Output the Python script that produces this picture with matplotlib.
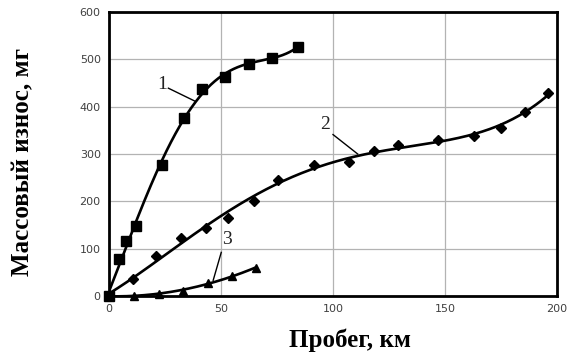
import numpy as np
import matplotlib
matplotlib.use("Agg")
from matplotlib import pyplot as plt

# curve 1 (squares)
x1 = [0, 4.6, 7.8, 12.2, 23.8, 33.3, 41.4, 51.6, 62.5, 72.7, 84.5]
y1 = [0, 78, 116, 148, 277, 377, 437, 462, 491, 503, 527]
# curve 2 (diamonds)
x2 = [0, 10.8, 20.8, 32.2, 43.5, 53.2, 64.6, 75.4, 91.6, 107, 118.4,
      129.2, 146.9, 163, 175, 185.5, 196]
y2 = [0, 35, 85, 123, 144, 164, 200, 246, 277, 282, 307,
      319, 330, 338, 354, 388, 429]
# curve 3 (triangles)
x3 = [0, 11.2, 22.3, 32.9, 44, 54.7, 65.6]
y3 = [0, 0, 4, 11, 28, 42, 59]

labels = ["1", "2", "3"]
label_pos = [(23.5, 446), (96.3, 363), (52.8, 119)]
arrow_ends = [((26.5, 439), (38.2, 412)), ((100, 341), (111, 300)), ((50.1, 92), (46.5, 33))]


def trend(x, y, deg):
    c = np.polyfit(x, y, deg)
    xs = np.linspace(min(x), max(x), 300)
    return xs, np.polyval(c, xs)


fig = plt.figure(figsize=(5.72, 3.64), dpi=100)
ax = fig.add_axes([0.1906, 0.187, 0.7832, 0.780])

for x, y, deg, m, ms in [(x1, y1, 4, 's', 7), (x2, y2, 4, 'D', 5), (x3, y3, 2, '^', 6)]:
    xs, ys = trend(x, y, deg)
    ax.plot(xs, ys, color='black', lw=1.9, zorder=3)
    ax.plot(x, y, ls='none', marker=m, ms=ms, color='black', zorder=4, clip_on=False)

for t, (lx, ly), (p0, p1) in zip(labels, label_pos, arrow_ends):
    ax.text(lx, ly, t, fontsize=14, family='Liberation Serif', ha='center', va='center', color='#222222')
    ax.plot([p0[0], p1[0]], [p0[1], p1[1]], color='black', lw=1.0, zorder=3)

ax.set_xlim(0, 200)
ax.set_ylim(0, 600)
ax.set_xticks([0, 50, 100, 150, 200])
ax.set_yticks(range(0, 601, 100))
ax.grid(True, color='#b3b3b3', lw=0.9)
ax.set_axisbelow(True)
ax.tick_params(length=0, labelsize=8, colors='#404040', pad=6)
for s in ax.spines.values():
    s.set_linewidth(2.0)
    s.set_color('black')

ax.set_xlabel("Пробег, км", family='Liberation Serif', weight='bold', fontsize=18)
ax.set_ylabel("Массовый износ, мг", family='Liberation Serif', weight='bold', fontsize=18,
              va='center')
ax.xaxis.set_label_coords(0.538, -0.115)
ax.yaxis.set_label_coords(-0.192, 0.472)

fig.savefig("out.png", dpi=100)
